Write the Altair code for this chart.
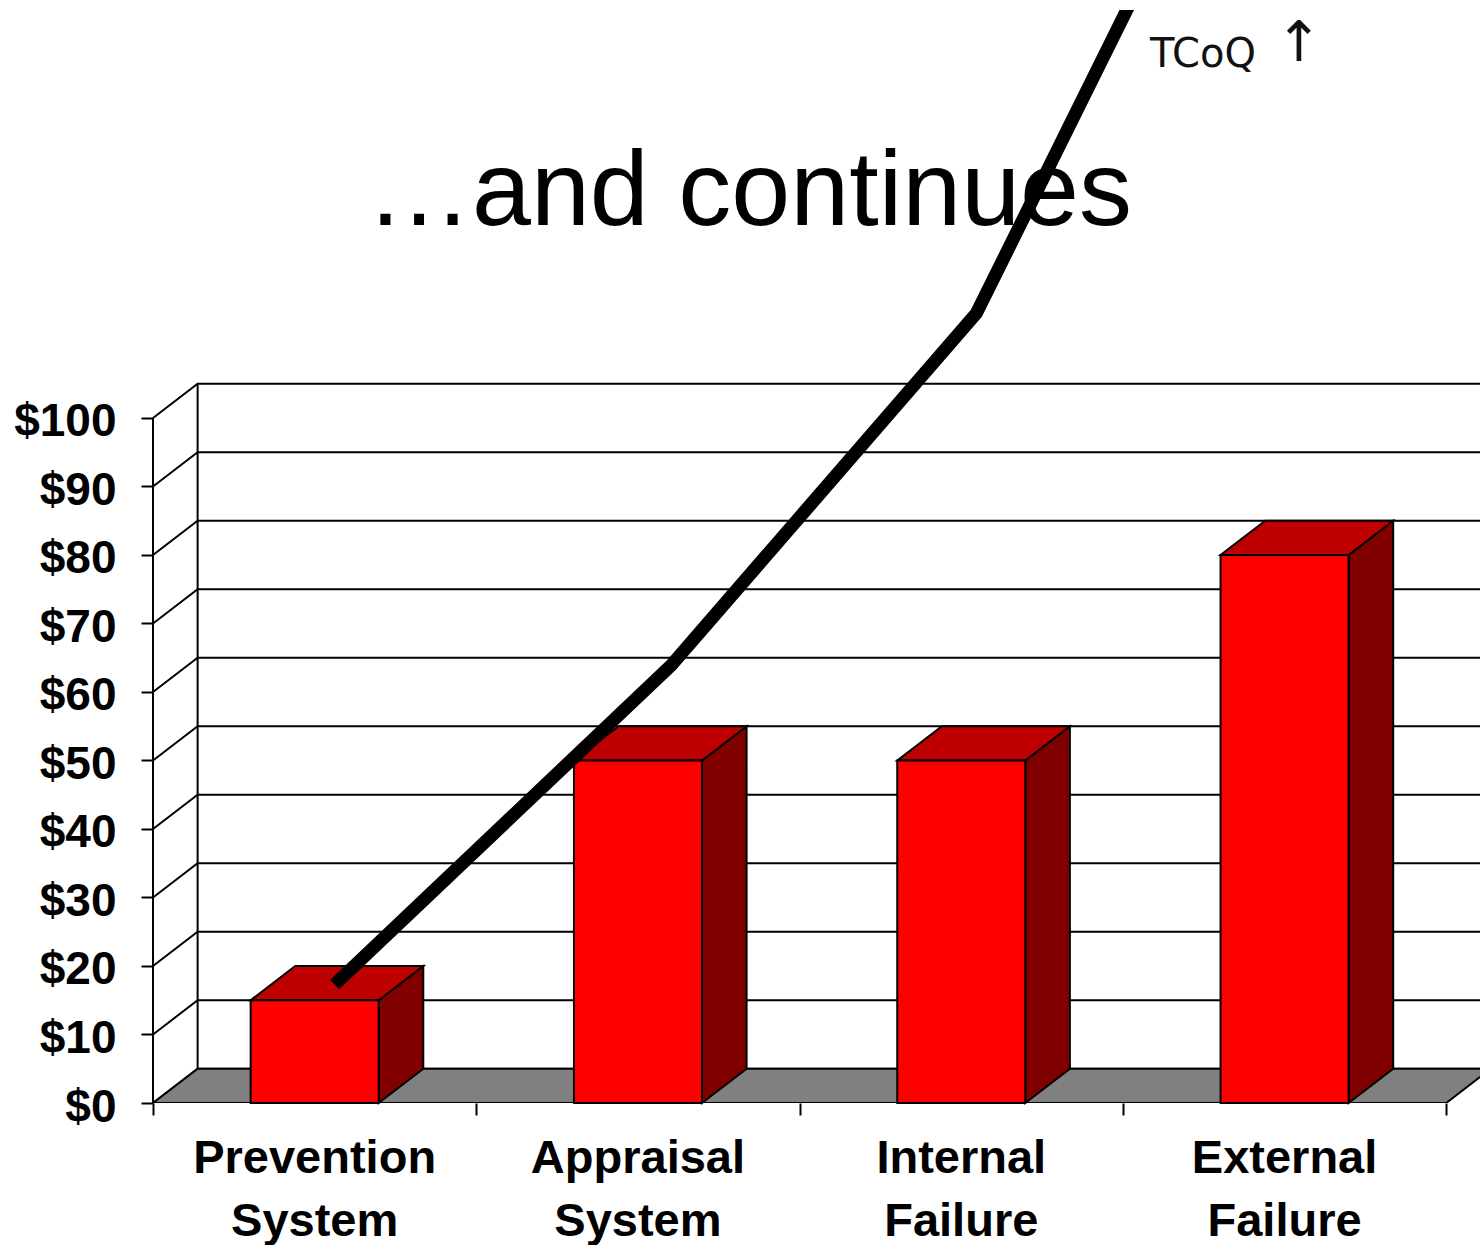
import altair as alt
import pandas as pd

# Cost-of-quality categories and their cost in dollars
categories = ["Prevention\nSystem", "Appraisal\nSystem", "Internal\nFailure", "External\nFailure"]
costs = [15, 50, 50, 80]

# Hand-drawn total cost of quality (TCoQ) trend: position along the category axis and value
tcoq_pos = [0.562, 1.603, 2.547, 3.027]
tcoq_val = [17.3, 63.9, 115.3, 161.0]

# Value axis ticks ($) and category slot boundaries
y_ticks = [0, 10, 20, 30, 40, 50, 60, 70, 80, 90, 100]
x_ticks = [0, 1, 2, 3, 4]

# Pseudo-3D geometry (in data units)
DEPTH_X = 0.138    # horizontal shift of the back plane
DEPTH_Y = 5.0      # vertical shift of the back plane
BAR_W = 0.396      # bar width as a fraction of a category slot
X_MAX = 4.1045
Y_MAX = 159.56
W, H = 1327, 1093

FONT = "Liberation Sans"

xs = alt.Scale(domain=[0, X_MAX], nice=False, zero=False)
ys = alt.Scale(domain=[0, Y_MAX], nice=False, zero=False)

x_axis = alt.Axis(values=x_ticks, labels=False, domain=False, grid=False, ticks=True,
                  tickSize=12, tickWidth=2, tickColor="black", title=None)
y_axis = alt.Axis(values=y_ticks, format="$.0f", labelFont=FONT, labelFontSize=46,
                  labelFontWeight="bold", labelColor="black", labelPadding=25,
                  labelOffset=4, labelFlush=False, labelOverlap=False,
                  tickSize=12, tickWidth=2, tickColor="black", domain=False, grid=False, title=None)


def X(field):
    return alt.X(field, scale=xs, axis=x_axis)


def Y(field):
    return alt.Y(field, scale=ys, axis=y_axis)


# Gridlines: diagonal along the side wall then horizontal across the back wall
grid_rows = []
for v in y_ticks:
    grid_rows += [
        {"v": v, "o": 0, "x": 0, "y": v},
        {"v": v, "o": 1, "x": DEPTH_X, "y": v + DEPTH_Y},
        {"v": v, "o": 2, "x": X_MAX, "y": v + DEPTH_Y},
    ]
grid_df = pd.DataFrame(grid_rows)

edge_df = pd.DataFrame({
    "x": [0, DEPTH_X],
    "y": [0, DEPTH_Y],
    "y2": [y_ticks[-1], y_ticks[-1] + DEPTH_Y],
})

floor_df = pd.DataFrame({
    "y": [0, DEPTH_Y],
    "x": [0, DEPTH_X],
    "x2": [len(categories), len(categories) + DEPTH_X],
})

front_rows, side_rows, top_rows = [], [], []
for i, (c, v) in enumerate(zip(categories, costs)):
    left = i + 0.5 - BAR_W / 2
    right = i + 0.5 + BAR_W / 2
    front_rows.append({"cat": c, "x": left, "x2": right, "y": 0, "y2": v})
    side_rows += [
        {"cat": c, "x": right, "y": 0, "y2": v},
        {"cat": c, "x": right + DEPTH_X, "y": DEPTH_Y, "y2": v + DEPTH_Y},
    ]
    top_rows += [
        {"cat": c, "y": v, "x": left, "x2": right},
        {"cat": c, "y": v + DEPTH_Y, "x": left + DEPTH_X, "x2": right + DEPTH_X},
    ]
front_df = pd.DataFrame(front_rows)
side_df = pd.DataFrame(side_rows)
top_df = pd.DataFrame(top_rows)

line_df = pd.DataFrame({"x": tcoq_pos, "y": tcoq_val, "o": list(range(len(tcoq_pos)))})
label_df = pd.DataFrame({"x": [i + 0.5 for i in range(len(categories))], "label": categories})

grid = alt.Chart(grid_df).mark_line(color="black", strokeWidth=2).encode(
    x=X("x:Q"), y=Y("y:Q"), detail="v:N", order="o:Q",
)

edges = alt.Chart(edge_df).mark_rule(color="black", strokeWidth=2).encode(
    x=X("x:Q"), y=Y("y:Q"), y2="y2:Q",
)

floor = alt.Chart(floor_df).mark_area(
    orient="horizontal", color="#808080", stroke="black", strokeWidth=2, clip=True
).encode(y=Y("y:Q"), x=X("x:Q"), x2="x2:Q")

sides = alt.Chart(side_df).mark_area(
    orient="vertical", color="#800000", stroke="black", strokeWidth=2
).encode(x=X("x:Q"), y=Y("y:Q"), y2="y2:Q", detail="cat:N")

tops = alt.Chart(top_df).mark_area(
    orient="horizontal", color="#BE0000", stroke="black", strokeWidth=2
).encode(y=Y("y:Q"), x=X("x:Q"), x2="x2:Q", detail="cat:N")

fronts = alt.Chart(front_df).mark_rect(color="#FF0000", stroke="black", strokeWidth=2).encode(
    x=X("x:Q"), x2="x2:Q", y=Y("y:Q"), y2="y2:Q",
)

trend = alt.Chart(line_df).mark_line(
    color="black", strokeWidth=13, strokeCap="butt", strokeJoin="miter", clip=True
).encode(x=X("x:Q"), y=Y("y:Q"), order="o:Q")

cat_labels = alt.Chart(label_df).mark_text(
    font=FONT, fontSize=47, fontWeight="bold", color="black",
    align="center", baseline="alphabetic", lineBreak="\n", lineHeight=63,
).encode(x=X("x:Q"), y=alt.value(1163), text="label:N")

title = alt.Chart(pd.DataFrame({"t": ["\u2026and continues"]})).mark_text(
    font=FONT, fontSize=106, color="black", align="center", baseline="alphabetic",
).encode(x=alt.value(596), y=alt.value(215), text="t:N")

tcoq_label = alt.Chart(pd.DataFrame({"t": ["TCoQ"]})).mark_text(
    font="DejaVu Sans", fontSize=40, color="#111111", align="left", baseline="alphabetic",
).encode(x=alt.value(997), y=alt.value(57), text="t:N")

arrow = alt.Chart(pd.DataFrame({"t": ["\u2191"]})).mark_text(
    font="DejaVu Sans", fontSize=56, color="#111111", align="center", baseline="alphabetic",
).encode(x=alt.value(1146), y=alt.value(51), text="t:N")

chart = alt.layer(
    grid, edges, floor, sides, tops, fronts, title, trend, cat_labels, tcoq_label, arrow
).properties(
    width=W,
    height=H,
    autosize=alt.AutoSizeParams(type="none"),
    padding={"left": 153, "top": 10, "right": 0, "bottom": 142},
    background="white",
).configure_view(stroke=None)

chart.save("out.html", embed_options={"renderer": "svg", "actions": False})
